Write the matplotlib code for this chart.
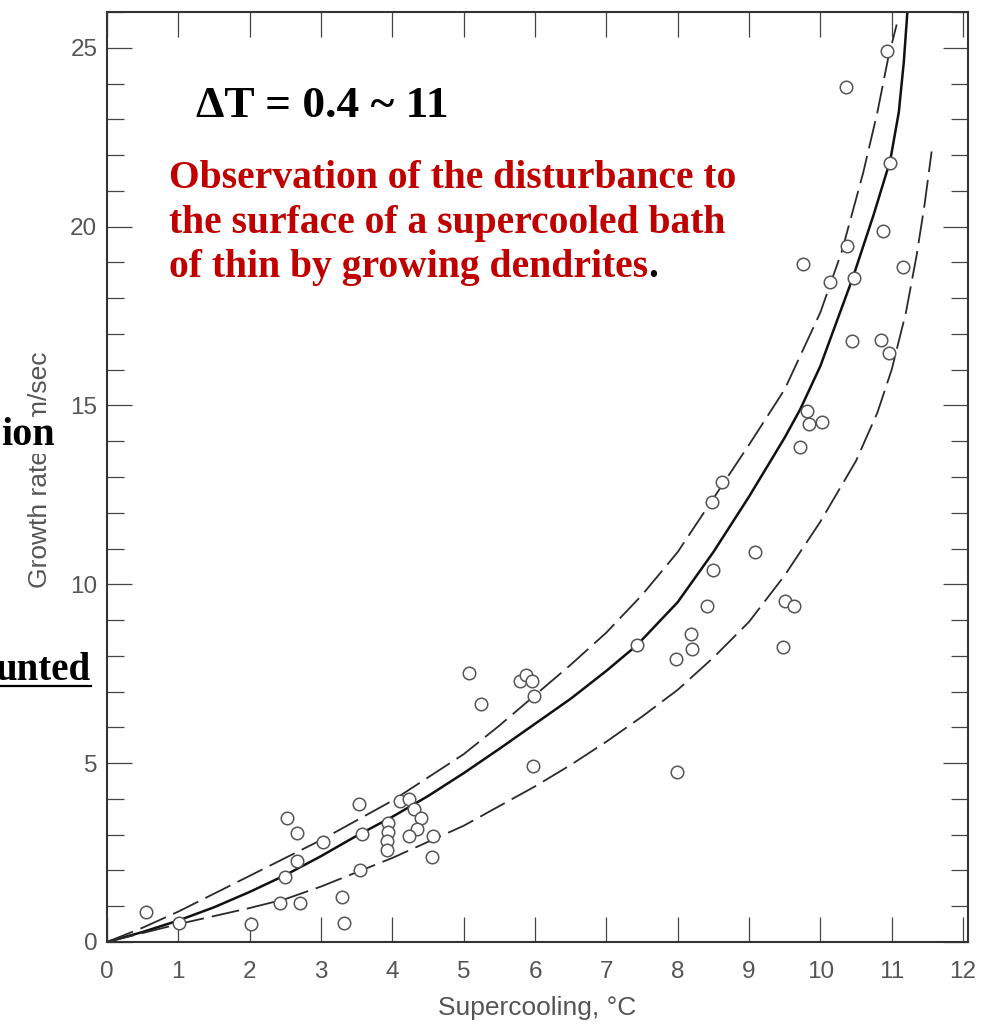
import matplotlib
matplotlib.use("Agg")
import matplotlib.pyplot as plt
from matplotlib.lines import Line2D
from matplotlib.ticker import MultipleLocator

# ==========================
# Data
# ==========================

# measured growth rates (supercooling degC, growth rate cm/sec)
obs_x = [0.55, 1.01, 2.02, 2.53, 2.66, 2.66, 2.50, 2.43, 2.71, 3.03,
         3.53, 3.57, 3.54, 3.30, 3.32, 4.11, 4.23, 4.30, 3.94, 3.94,
         3.92, 3.92, 4.40, 4.35, 4.23, 4.57, 4.55,
         5.08, 5.24, 5.79, 5.88, 5.96, 5.98, 5.97, 7.43, 8.18, 8.20,
         7.98, 7.99, 9.47,
         9.81, 9.84, 10.02, 9.72, 8.62, 8.48, 9.09, 8.49, 8.41, 9.51, 9.63,
         10.94, 10.36, 10.97, 10.88, 10.37, 9.76, 11.16, 10.14, 10.47,
         10.44, 10.85, 10.96]
obs_y = [0.85, 0.53, 0.50, 3.46, 3.05, 2.27, 1.81, 1.08, 1.10, 2.80,
         3.87, 3.02, 2.01, 1.27, 0.54, 3.95, 3.99, 3.73, 3.33, 3.08,
         2.83, 2.57, 3.46, 3.15, 2.96, 2.96, 2.37,
         7.52, 6.64, 7.29, 7.46, 7.29, 6.87, 4.92, 8.30, 8.60, 8.18,
         7.90, 4.74, 8.25,
         14.84, 14.49, 14.53, 13.84, 12.86, 12.30, 10.90, 10.41, 9.39, 9.53, 9.39,
         24.92, 23.89, 21.79, 19.89, 19.47, 18.96, 18.88, 18.46, 18.57,
         16.80, 16.84, 16.46]

# mean curve (solid)
mid_x = [0, 0.5, 1.0, 1.5, 2.0, 2.5, 3.0, 3.5, 4.0, 4.5, 5.0, 5.5, 6.0, 6.5,
         7.0, 7.43, 8.0, 8.5, 9.0, 9.5, 9.72, 10.0, 10.46, 10.75, 10.98,
         11.1, 11.17, 11.22]
mid_y = [0, 0.28, 0.6, 0.97, 1.4, 1.87, 2.4, 2.97, 3.5, 4.08, 4.72, 5.4, 6.1, 6.8,
         7.58, 8.3, 9.5, 10.9, 12.45, 14.1, 14.9, 16.1, 18.6, 20.35, 21.85,
         23.2, 24.6, 26.0]

# upper bound (dashed)
up_x = [0, 0.5, 1.0, 2.0, 3.0, 3.5, 4.0, 4.5, 5.0, 5.5, 6.0, 6.5, 7.0, 7.5,
        8.0, 8.5, 9.0, 9.5, 10.0, 10.3, 10.6, 10.8, 10.95, 11.07]
up_y = [0, 0.4, 0.85, 1.85, 2.85, 3.4, 3.95, 4.6, 5.25, 6.05, 6.9, 7.75, 8.65, 9.7,
        10.9, 12.4, 13.9, 15.45, 17.6, 19.3, 21.5, 23.2, 24.7, 25.65]

# lower bound (dashed)
lo_x = [0, 1.0, 2.0, 2.5, 3.0, 3.5, 4.0, 4.5, 5.0, 5.5, 6.0, 6.5, 7.0, 7.5,
        8.0, 8.5, 9.0, 9.5, 10.0, 10.5, 10.8, 11.0, 11.2, 11.35, 11.46, 11.56]
lo_y = [0, 0.5, 0.95, 1.2, 1.55, 1.95, 2.35, 2.8, 3.25, 3.8, 4.35, 4.95, 5.6, 6.3,
        7.05, 7.95, 8.95, 10.25, 11.75, 13.45, 14.8, 16.0, 17.6, 19.2, 20.6, 22.1]

x_ticks = list(range(0, 13))
y_ticks = [0, 5, 10, 15, 20, 25]

# ==========================
# Figure
# ==========================

W, H = 992, 1024
fig = plt.figure(figsize=(W / 100, H / 100), dpi=100)
ax = fig.add_axes([107 / W, 1 - 942 / H, (968 - 107) / W, (942 - 12) / H])

GRAY = '#555555'
INK = '#2a2a2a'

ax.plot(mid_x, mid_y, color='#111111', lw=1.8, solid_capstyle='butt', zorder=2)
ax.plot(up_x, up_y, color=INK, lw=1.3, dashes=(15.5, 4.4), zorder=2)
ax.plot(lo_x, lo_y, color=INK, lw=1.3, dashes=(15.5, 4.4), zorder=2)
ax.plot(obs_x, obs_y, ls='none', marker='o', ms=9, mfc='white',
        mec=GRAY, mew=1.1, zorder=3, clip_on=False)

ax.set_xlim(0, 12.07)
ax.set_ylim(0, 26)
ax.set_xticks(x_ticks)
ax.set_yticks(y_ticks)
ax.yaxis.set_minor_locator(MultipleLocator(1))

for s in ax.spines.values():
    s.set_linewidth(1.5)
    s.set_color('#333333')

ax.tick_params(axis='x', which='major', direction='in', top=True, bottom=True,
               length=18, width=0.9, color='#444444', pad=14,
               labelsize=17.5, labelcolor=GRAY)
ax.tick_params(axis='y', which='major', direction='in', left=True, right=True,
               length=18, width=0.9, color='#444444', pad=7,
               labelsize=17.5, labelcolor=GRAY)
ax.tick_params(axis='y', which='minor', direction='in', left=True, right=True,
               length=12, width=0.9, color='#444444')
for lab in ax.get_xticklabels() + ax.get_yticklabels():
    lab.set_family('Liberation Sans')

# axis titles
fig.text(537 / W, 1 - 1008 / H, 'Supercooling, \u00b0C', ha='center', va='center',
         fontsize=19, color=GRAY, family='Liberation Sans')
fig.text(40 / W, 1 - 470 / H, 'Growth rate, cm/sec', ha='center', va='center',
         rotation=90, fontsize=19, color=GRAY, family='Liberation Sans')

# annotations
serif = 'Liberation Serif'
fig.text(196 / W, 1 - 117 / H, '\u0394T = 0.4 ~ 11', ha='left', va='baseline',
         fontsize=32.7, fontweight='bold', color='black', family=serif)

RED = '#C00000'
red_lines = ['Observation of the disturbance to',
             'the surface of a supercooled bath',
             'of thin by growing dendrites']
baselines = [188, 232.5, 277]
last = None
for txt, b in zip(red_lines, baselines):
    last = fig.text(169 / W, 1 - b / H, txt, ha='left', va='baseline',
                    fontsize=28.5, fontweight='bold', color=RED, family=serif)
ax.annotate('.', xy=(1, 0), xycoords=last, ha='left', va='bottom',
            fontsize=28.5, fontweight='bold', color='black', family=serif)

# cropped fragments at the left edge
fig.text(55 / W, 1 - 445 / H, 'ion', ha='right', va='baseline', fontsize=29,
         fontweight='bold', color='black', family=serif,
         bbox=dict(facecolor='white', edgecolor='none', pad=0))
t_unted = fig.text(91 / W, 1 - 680 / H, 'unted', ha='right', va='baseline',
                   fontsize=28, fontweight='bold', color='black', family=serif)

fig.canvas.draw()
bb = t_unted.get_window_extent()
fig.add_artist(Line2D([max(bb.x0, 0) / W, bb.x1 / W], [1 - 686 / H, 1 - 686 / H],
                      transform=fig.transFigure, color='black', lw=1.6))

fig.savefig('out.png', dpi=100)
